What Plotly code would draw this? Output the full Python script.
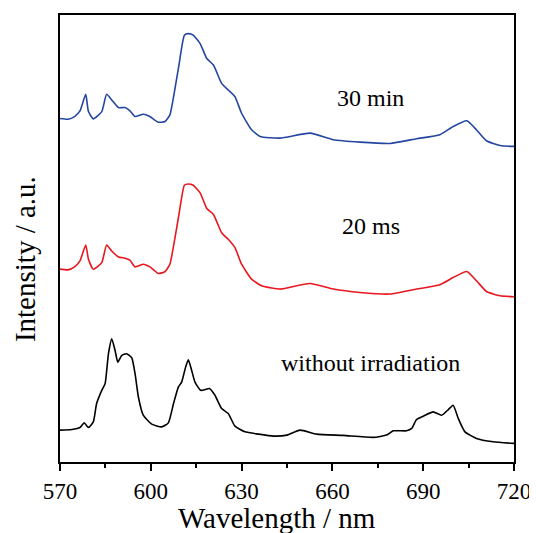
import plotly.graph_objects as go

# 30 min (blue)
wl_30min = [570, 572.7, 574.8, 576.6, 578.5, 579.4, 581, 583.8, 585.4, 587.1, 589.3, 591.5, 593.1, 594.8,
            597.5, 599.7, 602.5, 604.7, 606.3, 608, 609.3, 611.1, 612.4, 614, 616.3, 618.5, 620.7, 623.4,
            625.6, 627.8, 630, 633.3, 636.1, 642.7, 652.6, 660.3, 669.1, 679, 687.8, 695.5, 699.9, 704.4,
            707.6, 710.9, 715.4, 720]
int_30min = [345, 344.3, 347, 352.7, 369.3, 352, 344.7, 352, 369.3, 363.7, 356, 356, 352.7, 347,
             349.3, 347, 341.3, 342, 348.7, 375.3, 398.7, 428.7, 430.3, 428.7, 420.3, 405.3, 398.7, 380.3,
             373.7, 367, 350.3, 333.7, 327, 325.3, 330.3, 323.7, 321.3, 320, 324.7, 328.7, 337, 342.7,
             333.7, 322.7, 318, 317]

# 20 ms (red)
wl_20ms = [570, 572.7, 574.8, 576.6, 578.5, 579.4, 581, 583.8, 585.4, 587.1, 589.3, 591.5, 593.1, 594.8,
           597.5, 599.7, 602.5, 604.7, 606.3, 608, 609.3, 611.1, 612.4, 614, 616.3, 618.5, 620.7, 623.4,
           625.6, 627.8, 630, 633.3, 636.6, 640, 643, 652.6, 660.3, 669.1, 679, 687.8, 695.5, 699.9,
           704.4, 707.6, 710.9, 715.4, 720]
int_20ms = [193.7, 193, 196, 202, 218, 203.7, 193.7, 200.3, 218, 212, 206, 204.7, 202.7, 196,
            198.7, 196, 189.3, 191.3, 198.7, 225.3, 248.7, 278, 279.3, 278, 270.3, 254.7, 248.7, 230.3,
            223.7, 215.3, 198.7, 183.7, 177, 174.7, 173.7, 179.3, 173.7, 170.3, 168.7, 173.7, 178, 185.3,
            191.3, 182, 171.3, 167, 166]

# without irradiation (black)
wl_none = [570, 573.9, 576.6, 578, 579.4, 581, 582.1, 583.8, 584.9, 586, 587.1, 588.2, 589.1, 590.4,
           592, 593.7, 594.8, 595.9, 597.5, 600.3, 603.6, 605.8, 607.5, 609.1, 610.2, 611.5, 612.4,
           613.5, 614.6, 616.5, 619.5, 621.2, 623.4, 625.6, 627.8, 631.1, 635.5, 640.5, 645, 649.3,
           654.8, 663.6, 673.5, 677.9, 680.1, 684.5, 686.2, 687.8, 690, 693.3, 696.1, 698.3, 699.9,
           701.6, 703.8, 707.6, 713.1, 720]
int_none = [32, 32.7, 34.7, 39.3, 34.7, 40.3, 58.7, 72, 78.7, 108.7, 123.7, 112, 100.3, 107,
            108.7, 104.7, 88.7, 65.3, 47, 38, 35.3, 39.3, 58.7, 75.3, 80.3, 95.3, 102.7,
            92, 80.3, 72, 73.7, 67, 53.7, 48.7, 36, 30.3, 28, 26, 27, 32,
            28, 26.7, 24.7, 27, 31.3, 31.3, 33.7, 42.7, 46, 50.3, 47, 52.7, 57,
            43.7, 30.3, 23.7, 20.3, 18.7]

labels = ["30 min", "20 ms", "without irradiation"]
label_x = [672.7, 672.7, 672.5]
label_y = [366, 237, 99]

x_ticks = [570, 600, 630, 660, 690, 720]
x_minor = [585, 615, 645, 675, 705]

FONT = "Liberation Serif, Times New Roman, serif"

fig = go.Figure()
for wl, it, col in [(wl_none, int_none, "#000000"), (wl_20ms, int_20ms, "#e8161e"),
                    (wl_30min, int_30min, "#2446a0")]:
    fig.add_trace(go.Scatter(x=wl, y=it, mode="lines",
                             line=dict(color=col, width=1.6, shape="spline", smoothing=0.5),
                             showlegend=False, hoverinfo="skip"))

for t, lx, ly in zip(labels, label_x, label_y):
    fig.add_annotation(x=lx, y=ly, text=t, showarrow=False, xref="x", yref="y",
                       font=dict(family=FONT, size=24, color="black"))

fig.add_annotation(x=-0.077, y=0.454, xref="paper", yref="paper", text="Intensity / a.u.",
                   textangle=-90, showarrow=False, xanchor="center", yanchor="middle",
                   font=dict(family=FONT, size=29, color="black"))
fig.add_annotation(x=0.478, y=-0.126, xref="paper", yref="paper", text="Wavelength / nm",
                   showarrow=False, xanchor="center", yanchor="middle",
                   font=dict(family=FONT, size=29, color="black"))

fig.update_layout(
    width=529, height=525,
    margin=dict(l=52, r=23, t=5, b=71),
    paper_bgcolor="white", plot_bgcolor="white",
    font=dict(family=FONT, size=23, color="black"),
)
fig.update_xaxes(range=[570, 720], tickvals=x_ticks, ticks="outside", ticklen=7, tickwidth=1.5,
                 tickcolor="black", showline=True, linecolor="black", linewidth=1.8, mirror=True,
                 showgrid=False, zeroline=False, tickfont=dict(family=FONT, size=23),
                 minor=dict(tickvals=x_minor, ticks="outside", ticklen=4,
                            tickwidth=1.5, tickcolor="black", showgrid=False))
fig.update_yaxes(range=[0, 449], showticklabels=False, ticks="", showline=True, linecolor="black",
                 linewidth=1.8, mirror=True, showgrid=False, zeroline=False)

fig.write_html("out.html")
